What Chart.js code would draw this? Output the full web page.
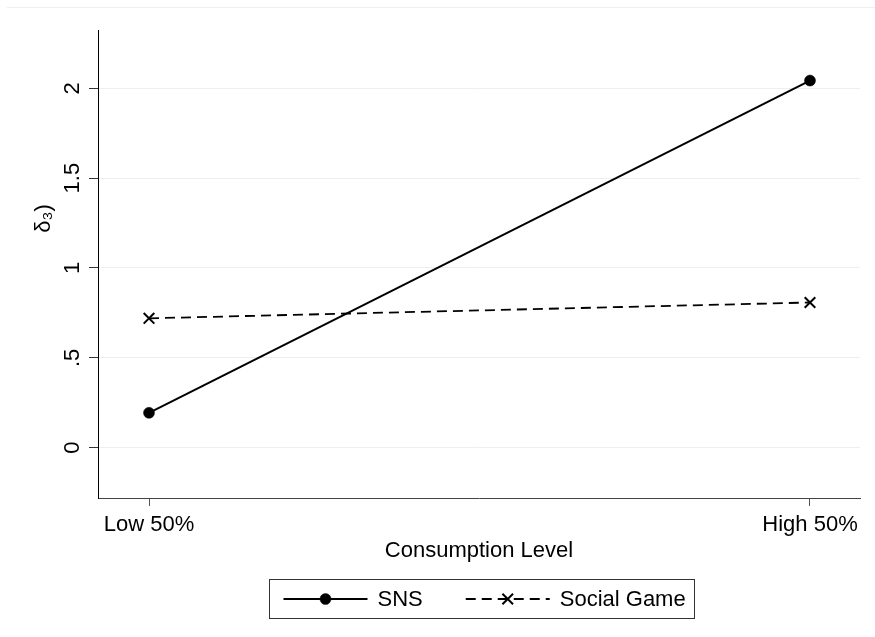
<!DOCTYPE html>
<html><head><meta charset="utf-8">
<script src="https://cdn.jsdelivr.net/npm/chart.js@4.4.1/dist/chart.umd.min.js"></script>
<style>html,body{margin:0;padding:0;background:#fff}#wrap{width:875px;height:637px;position:relative}canvas{display:block}</style>
</head><body><div id="wrap"><canvas id="c" width="875" height="637"></canvas></div>
<script>
// ---- data ----
const categories = ['Low 50%', 'High 50%'];
const seriesNames = ['SNS', 'Social Game'];
const snsValues = [0.194, 2.043];
const socialGameValues = [0.72, 0.808];
const yTickValues = [0, 0.5, 1, 1.5, 2];
const yTickLabels = ['0', '.5', '1', '1.5', '2'];
const xTitle = 'Consumption Level';
const yTitle = 'δ₃)';

const FONT = "'Liberation Sans', Arial, Helvetica, sans-serif";
const FS = 22;
Chart.defaults.font.family = FONT;
Chart.defaults.color = '#000';

const toPoints = vals => categories.map((c, i) => ({x: i, y: vals[i]}));

const frame = {
  id: 'frame',
  beforeDraw(chart) {
    const ctx = chart.ctx;
    ctx.save();
    ctx.fillStyle = '#fff';
    ctx.fillRect(0, 0, chart.width, chart.height);
    ctx.strokeStyle = '#efefef';
    ctx.lineWidth = 1;
    ctx.beginPath();
    ctx.moveTo(7, 7.5);
    ctx.lineTo(chart.width, 7.5);
    ctx.stroke();
    ctx.restore();
  }
};

const yTitlePlugin = {
  id: 'yTitlePlugin',
  afterDraw(chart) {
    const ctx = chart.ctx, a = chart.chartArea;
    ctx.save();
    ctx.font = FS + 'px ' + FONT;
    ctx.fillStyle = '#000';
    ctx.textAlign = 'center';
    ctx.textBaseline = 'middle';
    ctx.translate(44, (a.top + a.bottom) / 2 - 45.5);
    ctx.rotate(-Math.PI / 2);
    ctx.fillText(yTitle, 0, 0);
    ctx.restore();
  }
};

const legendBox = {
  id: 'legendBox',
  afterDraw(chart) {
    const ctx = chart.ctx, a = chart.chartArea;
    const sampleW = 84, gapText = 10, gapItem = 43, padL = 14, padR = 9;
    ctx.save();
    ctx.font = FS + 'px ' + FONT;
    const items = chart.data.datasets.map(ds => ({ds, tw: ctx.measureText(ds.label).width}));
    let contentW = 0;
    items.forEach((it, i) => { contentW += sampleW + gapText + it.tw + (i < items.length - 1 ? gapItem : 0); });
    const boxW = contentW + padL + padR;
    const cx = (a.left + a.right) / 2 + 3;
    const boxL = Math.round(cx - boxW / 2) + 0.5;
    const boxT = a.bottom + 81.5, boxH = 39;
    ctx.strokeStyle = '#333';
    ctx.lineWidth = 1;
    ctx.strokeRect(boxL, boxT, Math.round(boxW), boxH);
    const cy = boxT + boxH / 2;
    let x = boxL + padL;
    items.forEach(it => {
      const ds = it.ds;
      ctx.strokeStyle = ds.borderColor;
      ctx.lineWidth = ds.borderWidth;
      ctx.setLineDash(ds.borderDash || []);
      ctx.beginPath();
      ctx.moveTo(x, cy);
      ctx.lineTo(x + sampleW, cy);
      ctx.stroke();
      ctx.setLineDash([]);
      ctx.fillStyle = ds.pointBackgroundColor;
      ctx.strokeStyle = ds.pointBorderColor;
      ctx.lineWidth = ds.pointBorderWidth;
      Chart.helpers.drawPoint(ctx, {pointStyle: ds.pointStyle, radius: ds.pointRadius, borderWidth: ds.pointBorderWidth, rotation: 0}, x + sampleW / 2, cy);
      ctx.fillStyle = '#000';
      ctx.textAlign = 'left';
      ctx.textBaseline = 'middle';
      ctx.fillText(ds.label, x + sampleW + gapText, cy + 1);
      x += sampleW + gapText + it.tw + gapItem;
    });
    ctx.restore();
  }
};

new Chart(document.getElementById('c'), {
  type: 'line',
  data: {
    datasets: [
      {
        label: seriesNames[0],
        data: toPoints(snsValues),
        borderColor: '#000',
        backgroundColor: '#000',
        borderWidth: 2,
        pointStyle: 'circle',
        pointRadius: 5.5,
        pointHoverRadius: 5.5,
        pointBackgroundColor: '#000',
        pointBorderColor: '#000',
        pointBorderWidth: 0.5,
        tension: 0
      },
      {
        label: seriesNames[1],
        data: toPoints(socialGameValues),
        borderColor: '#000',
        backgroundColor: '#000',
        borderWidth: 1.8,
        borderDash: [10, 6],
        pointStyle: 'crossRot',
        pointRadius: 7.5,
        pointHoverRadius: 7.5,
        pointBackgroundColor: '#000',
        pointBorderColor: '#000',
        pointBorderWidth: 2,
        tension: 0
      }
    ]
  },
  options: {
    responsive: false,
    animation: false,
    devicePixelRatio: 1,
    layout: {padding: {top: 30, right: 15, left: 0, bottom: 0}},
    plugins: {legend: {display: false}, tooltip: {enabled: false}},
    scales: {
      x: {
        type: 'linear',
        min: -0.07716,
        max: 1.07565,
        afterBuildTicks: s => { s.ticks = categories.map((c, i) => ({value: i})); },
        afterFit: s => { s.height = 139; },
        ticks: {
          callback: (v, i) => categories[i],
          font: {size: FS},
          color: '#000',
          padding: 6,
          maxRotation: 0,
          autoSkip: false
        },
        grid: {drawOnChartArea: false, drawTicks: true, tickLength: 8, tickColor: '#555', tickWidth: 1},
        border: {color: '#444', width: 1},
        title: {display: true, text: xTitle, font: {size: FS, lineHeight: 1}, color: '#000', padding: {top: 0, bottom: 75}}
      },
      y: {
        min: -0.2799,
        max: 2.3244,
        afterBuildTicks: s => { s.ticks = yTickValues.map(v => ({value: v})); },
        afterFit: s => { s.width = 98; },
        ticks: {
          callback: (v, i) => yTickLabels[i],
          minRotation: 90,
          maxRotation: 90,
          crossAlign: 'center',
          padding: 1,
          autoSkip: false,
          font: {size: FS},
          color: '#000'
        },
        grid: {color: '#e9eff3', lineWidth: 1, tickLength: 9, tickColor: '#333', drawTicks: true},
        border: {color: '#000', width: 1}
      }
    }
  },
  plugins: [frame, yTitlePlugin, legendBox]
});
</script>
</body></html>
